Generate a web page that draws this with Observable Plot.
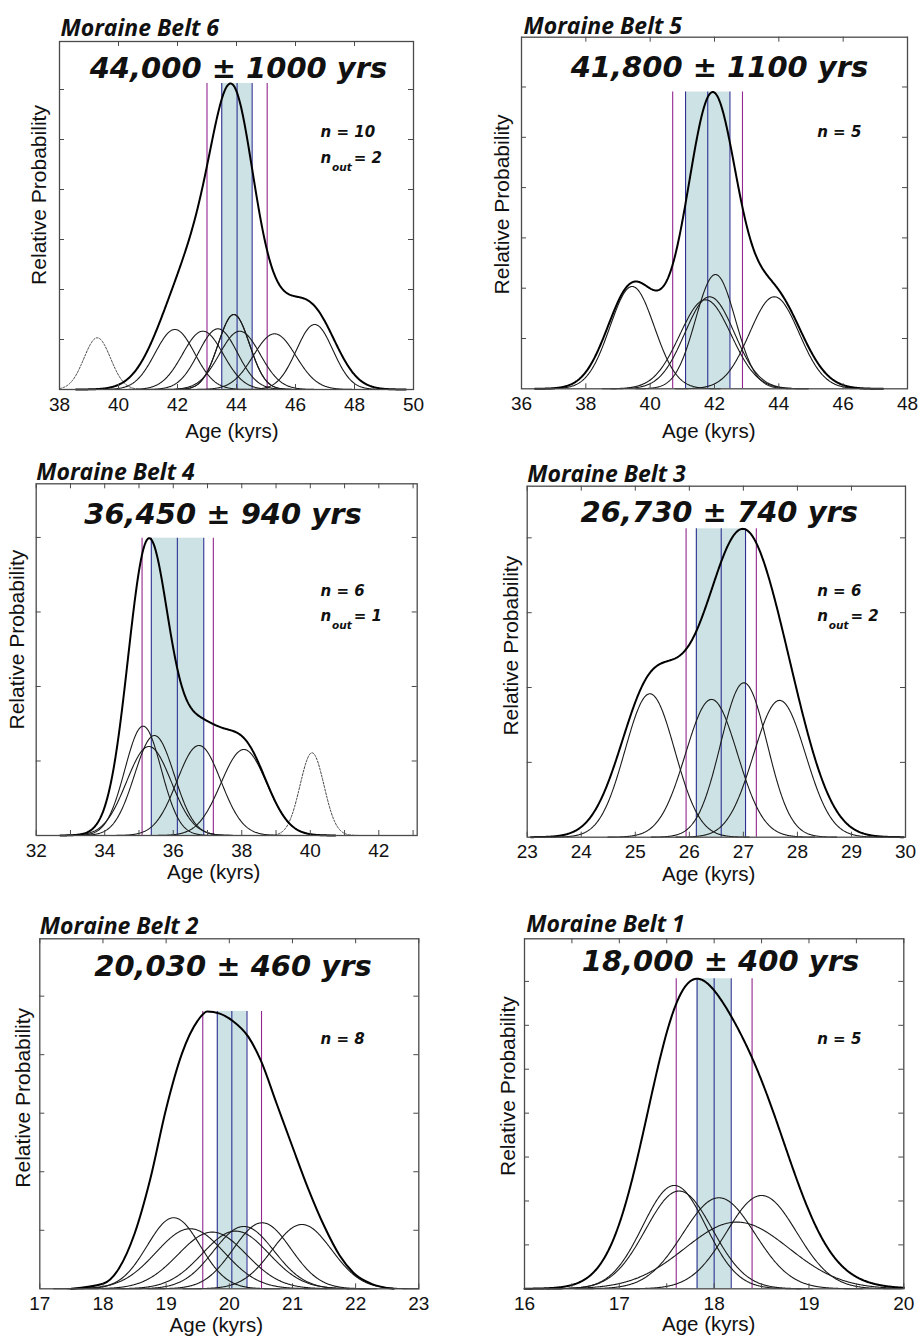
<!DOCTYPE html>
<html><head><meta charset="utf-8">
<script src="https://cdn.jsdelivr.net/npm/d3@7"></script>
<script src="https://cdn.jsdelivr.net/npm/@observablehq/plot@0.6"></script>
<style>
body{margin:0;background:#fff;}
#root{position:relative;width:919px;height:1337px;overflow:hidden;background:#fff;}
.panel{position:absolute;}
.panel svg{overflow:visible;display:block;}
</style></head><body><div id="root"></div>
<script>
// ---------------- DATA ----------------
const panelTitles = ["Moraine Belt 6","Moraine Belt 5","Moraine Belt 4","Moraine Belt 3","Moraine Belt 2","Moraine Belt 1"];
const ageTexts = ["44,000 ± 1000 yrs","41,800 ± 1100 yrs","36,450 ± 940 yrs","26,730 ± 740 yrs","20,030 ± 460 yrs","18,000 ± 400 yrs"];
const nCounts = [10, 5, 6, 6, 8, 5];
const nOutliers = [2, 0, 1, 2, 0, 0];
const xDomains = [[38,50],[36,48],[32,43.12],[23,30],[17,23],[16,20]];
const xTickLabelValues = [
  [38,40,42,44,46,48,50],[36,38,40,42,44,46,48],[32,34,36,38,40,42],
  [23,24,25,26,27,28,29,30],[17,18,19,20,21,22,23],[16,17,18,19,20]];
const xTickMarkValues = [
  [38,40,42,44,46,48,50],[36,38,40,42,44,46,48],[32,33,34,35,36,37,38,39,40,41,42,43],
  [23,24,25,26,27,28,29,30],[17,18,19,20,21,22,23],[16,16.5,17,17.5,18,18.5,19,19.5,20]];
const yDomainMax = [6.96, 6.99, 4.72, 4.69, 5.98, 7.97];
const yTickValues = [[1,2,3,4,5,6],[1,2,3,4,5,6],[1,2,3,4],[1,2,3,4],[1,2,3,4,5],[1,2,3,4,5,6,7]];

// individual sample probability curves: age (kyr), 1 sigma (kyr), peak height (relative)
const sampleAges = [
  [39.28, 41.91, 42.86, 43.37, 43.91, 43.91, 44.11, 45.29, 46.65],
  [39.44, 41.72, 41.85, 42.03, 43.86],
  [35.12, 35.29, 35.45, 36.75, 38.06, 40.05],
  [25.27, 26.41, 27.01, 27.67],
  [19.12, 19.38, 19.73, 20.10, 20.23, 20.52, 21.15],
  [17.58, 17.63, 18.05, 18.24, 18.50]];
const sampleSigmas = [
  [0.45, 0.67, 0.69, 0.66, 0.53, 0.53, 0.69, 0.72, 0.62],
  [0.69, 0.80, 0.77, 0.62, 0.77],
  [0.53, 0.65, 0.58, 0.64, 0.67, 0.35],
  [0.46, 0.48, 0.43, 0.48],
  [0.42, 0.54, 0.54, 0.53, 0.48, 0.455, 0.47],
  [0.334, 0.353, 0.38, 0.55, 0.37]];
const samplePeaks = [
  [1.034, 1.20, 1.166, 1.214, 1.50, 1.50, 1.166, 1.114, 1.30],
  [2.034, 1.769, 1.829, 2.272, 1.829],
  [1.467, 1.195, 1.342, 1.208, 1.154, 1.110],
  [1.916, 1.841, 2.063, 1.828],
  [1.214, 1.026, 0.969, 0.986, 1.065, 1.128, 1.099],
  [2.353, 2.226, 2.073, 1.519, 2.125]];
const sampleOutlier = [
  [true, false, false, false, false, false, false, false, false],
  [false, false, false, false, false],
  [false, false, false, false, false, true],
  [false, false, false, false],
  [false, false, false, false, false, false, false],
  [false, false, false, false, false]];
// summed probability: width factor applied to the sample sigmas, peak height
const sumSigmaScale = [1.25, 1.10, 1.00, 1.20, 1.00, 1.10];
const sumPeaks = [6.12, 5.90, 3.99, 4.12, 4.74, 7.06];
// Moraine Belt 2 summed curve (age kyr, relative probability)
const belt2SumAges   = [17.5, 18.0, 18.25, 18.5, 18.75, 19.0, 19.25, 19.5, 19.65, 19.85, 20.05, 20.3, 20.5, 20.75, 21.0, 21.25, 21.5, 21.75, 22.0, 22.25, 22.6];
const belt2SumValues = [0, 0.085, 0.342, 0.94, 1.88, 3.077, 4.017, 4.581, 4.74, 4.701, 4.581, 4.308, 3.897, 3.162, 2.427, 1.709, 1.077, 0.564, 0.239, 0.085, 0];
const meanAges = [44.02, 41.79, 36.12, 26.59, 20.04, 18.00];
const innerLow  = [43.50, 41.10, 35.36, 26.13, 19.81, 17.82];
const innerHigh = [44.53, 42.48, 36.89, 27.04, 20.28, 18.18];
const outerLow  = [43.00, 40.70, 35.09, 25.94, 19.58, 17.60];
const outerHigh = [45.04, 42.87, 37.17, 27.24, 20.51, 18.40];

// ---------------- LAYOUT (positions / styles) ----------------
const layout = [
  {left:0,   top:0,   w:460, h:445, ml:59,   mr:47,   mt:41,   mb:56,
   tDx:1,   tDy:-6,   aDx:2,    aDy:36.3, nDx:261,   nDy:95.7,  yDx:-13.4, yDy:-20.5, xDx:-4.5, xDy:48.3},
  {left:460, top:0,   w:459, h:445, ml:61,   mr:12,   mt:36.7, mb:56.7,
   tDx:2,   tDy:-3.4, aDx:5,    aDy:39.3, nDx:295.7, nDy:100,   yDx:-12.4, yDy:-8.5,  xDx:-5.7, xDy:49},
  {left:0,   top:445, w:460, h:445, ml:35.7, mr:43.3, mt:38.3, mb:55,
   tDx:0,   tDy:-4,   aDx:-3.7, aDy:40,   nDx:284.3, nDy:111.7, yDx:-11.8, yDy:-20,   xDx:-13,  xDy:43.5},
  {left:460, top:445, w:459, h:445, ml:66.7, mr:14,   mt:40.7, mb:53.3,
   tDx:0,   tDy:-4,   aDx:3,    aDy:36,   nDx:290,   nDy:109.3, yDx:-9.4,  yDy:-16,   xDx:-7.6, xDy:43.5},
  {left:0,   top:890, w:460, h:447, ml:39.3, mr:41.7, mt:48.3, mb:48.7,
   tDx:0,   tDy:-5,   aDx:3.7,  aDy:36.7, nDx:280.7, nDy:105,   yDx:-10.3, yDy:-16,   xDx:-13,  xDy:43},
  {left:460, top:890, w:459, h:447, ml:64,   mr:15.7, mt:48.3, mb:48.7,
   tDx:1.7, tDy:-7.3, aDx:6.3,  aDy:31.7, nDx:292.7, nDy:105,   yDx:-10,   yDy:-27.7, xDx:-5.4, xDy:42.5}
];
const BAND = "#cde2e4", BLUE = "#2e3192", MAGENTA = "#92278f", FRAME = "#4a4a4a";
const BOLDIT = "'DejaVu Sans', sans-serif";
const TITLEF = "'Open Sans', sans-serif";

function gauss(x, mu, s, h) { return h * Math.exp(-((x - mu) ** 2) / (2 * s * s)); }

const root = document.getElementById("root");

for (let i = 0; i < 6; i++) {
  const L = layout[i];
  const [x0, x1] = xDomains[i];
  const step = (x1 - x0) / 600;
  const grid = d3.range(x0, x1 + step / 2, step);
  const ages = sampleAges[i], sig = sampleSigmas[i], pk = samplePeaks[i], out = sampleOutlier[i];

  const curves = [], outCurves = [];
  ages.forEach((mu, j) => {
    const pts = grid.filter(x => Math.abs(x - mu) <= 4 * sig[j]).map(x => ({id: j, x, y: gauss(x, mu, sig[j], pk[j])}));
    (out[j] ? outCurves : curves).push(...pts);
  });

  let sumPts, sumCurve = "linear";
  if (i === 4) {
    sumPts = belt2SumAges.map((x, j) => ({x, y: belt2SumValues[j]}));
    sumCurve = "monotone-x";
  } else {
    const f = sumSigmaScale[i];
    const inIdx = ages.map((_, j) => j).filter(j => !out[j]);
    const sLo = Math.max(x0, d3.min(inIdx, j => ages[j] - 4 * f * sig[j]));
    const sHi = Math.min(x1, d3.max(inIdx, j => ages[j] + 4 * f * sig[j]));
    const sumRaw = grid.filter(x => x >= sLo && x <= sHi).map(x => ({x, y: d3.sum(inIdx, j => gauss(x, ages[j], f * sig[j], pk[j]))}));
    const k = sumPeaks[i] / d3.max(sumRaw, d => d.y);
    sumPts = sumRaw.map(d => ({x: d.x, y: d.y * k}));
  }

  const frameW = L.w - L.ml - L.mr, frameH = L.h - L.mt - L.mb;
  const peak = sumPeaks[i];

  const marks = [
    Plot.rect([{a: innerLow[i], b: innerHigh[i]}], {x1: "a", x2: "b", y1: 0, y2: peak, fill: BAND}),
    Plot.ruleX([outerLow[i], outerHigh[i]], {x: d => d, y1: 0, y2: peak, stroke: MAGENTA, strokeWidth: 1.1}),
    Plot.ruleX([innerLow[i], meanAges[i], innerHigh[i]], {x: d => d, y1: 0, y2: peak, stroke: BLUE, strokeWidth: 1.1}),
    Plot.line(outCurves, {x: "x", y: "y", z: "id", stroke: "#444", strokeWidth: 1, strokeDasharray: "2,1.6"}),
    Plot.line(curves, {x: "x", y: "y", z: "id", stroke: "#1a1a1a", strokeWidth: 1.1}),
    Plot.line(sumPts, {x: "x", y: "y", stroke: "#000", strokeWidth: 2, curve: sumCurve}),
    Plot.frame({stroke: FRAME, strokeWidth: 1.3}),
    Plot.tickX(xTickMarkValues[i], {x: d => d, insetTop: frameH - 5, stroke: FRAME}),
    Plot.tickX(xTickMarkValues[i], {x: d => d, insetBottom: frameH - 5, stroke: FRAME}),
    Plot.tickY(yTickValues[i], {y: d => d, insetRight: frameW - 5, stroke: FRAME}),
    Plot.tickY(yTickValues[i], {y: d => d, insetLeft: frameW - 5, stroke: FRAME}),
    Plot.axisX(xTickLabelValues[i], {tickSize: 0, tickPadding: 7.5, fontSize: 19, label: null, fill: "#111"}),
    Plot.text([panelTitles[i]], {text: d => d, frameAnchor: "top-left", textAnchor: "start", lineAnchor: "bottom",
      dx: L.tDx, dy: L.tDy, fontFamily: TITLEF, fontSize: 23, fontWeight: "bold", fontStyle: "italic", fill: "#111"}),
    Plot.text([ageTexts[i]], {text: d => d, frameAnchor: "top", textAnchor: "middle", lineAnchor: "bottom",
      dx: L.aDx, dy: L.aDy, fontFamily: BOLDIT, fontSize: 29, fontWeight: "bold", fontStyle: "italic", fill: "#111"}),
    Plot.text(["n = " + nCounts[i]], {text: d => d, frameAnchor: "top-left", textAnchor: "start", lineAnchor: "bottom",
      dx: L.nDx, dy: L.nDy, fontFamily: BOLDIT, fontSize: 15, fontWeight: "bold", fontStyle: "italic", fill: "#111"}),
    Plot.text(["Relative Probability"], {text: d => d, frameAnchor: "left", rotate: -90, textAnchor: "middle", lineAnchor: "bottom",
      dx: L.yDx, dy: L.yDy, fontSize: 21, fill: "#111"}),
    Plot.text(["Age (kyrs)"], {text: d => d, frameAnchor: "bottom", textAnchor: "middle", lineAnchor: "bottom",
      dx: L.xDx, dy: L.xDy, fontSize: 20.5, fill: "#111"})
  ];
  if (nOutliers[i] > 0) {
    const nd = L.nDy + 25.6;
    marks.push(
      Plot.text(["n"], {text: d => d, frameAnchor: "top-left", textAnchor: "start", lineAnchor: "bottom",
        dx: L.nDx, dy: nd, fontFamily: BOLDIT, fontSize: 15, fontWeight: "bold", fontStyle: "italic", fill: "#111"}),
      Plot.text(["out"], {text: d => d, frameAnchor: "top-left", textAnchor: "start", lineAnchor: "bottom",
        dx: L.nDx + 11.5, dy: nd + 7.7, fontFamily: BOLDIT, fontSize: 10.5, fontWeight: "bold", fontStyle: "italic", fill: "#111"}),
      Plot.text(["= " + nOutliers[i]], {text: d => d, frameAnchor: "top-left", textAnchor: "start", lineAnchor: "bottom",
        dx: L.nDx + 33.3, dy: nd, fontFamily: BOLDIT, fontSize: 15, fontWeight: "bold", fontStyle: "italic", fill: "#111"})
    );
  }

  const chart = Plot.plot({
    width: L.w, height: L.h,
    marginLeft: L.ml, marginRight: L.mr, marginTop: L.mt, marginBottom: L.mb,
    x: {domain: xDomains[i], label: null},
    y: {domain: [0, yDomainMax[i]], axis: null, label: null},
    style: {fontFamily: "'Liberation Sans', Arial, sans-serif", fontSize: "19px", background: "transparent", overflow: "visible", color: "#111"},
    marks
  });
  const div = document.createElement("div");
  div.className = "panel";
  div.style.left = L.left + "px";
  div.style.top = L.top + "px";
  div.appendChild(chart);
  root.appendChild(div);
}
</script></body></html>
